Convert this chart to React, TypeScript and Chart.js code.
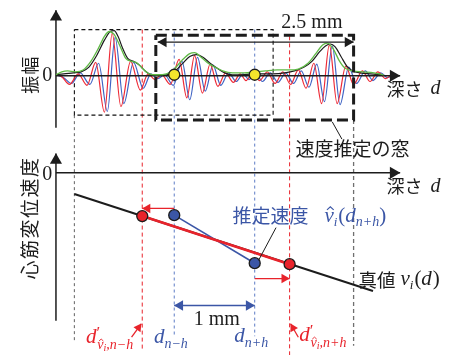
import React, { useEffect, useRef } from 'react';
import { Chart, registerables } from 'chart.js';

Chart.register(...registerables);

type P = [number, number];

// ---------------- data ----------------
// x: position along depth axis; yA: echo amplitude (0 = baseline); yV: myocardial velocity (0 = baseline)
const redWave: P[] = [
  [50, 0], [56, -2], [64, -10], [73, 1], [82, -11], [91, 13], [100, -39], [108, 43], [117, -33], [127, 14],
  [137, -16], [145, 1], [152, -5], [159, 0], [168, -10], [177, 16], [185, -24], [193, 20], [201, -19], [209, 11],
  [217, -12], [225, 2], [233, -8], [240, 1], [246, -6], [253, 2], [260, -6], [268, 3], [276, -9], [284, 3],
  [292, -10], [300, 5], [308, -14], [316, 12], [324, -30], [332, 31], [340, -30], [349, 9], [357, -10], [366, 4],
  [374, -7], [382, 3], [390, -4], [396, 0],
];
const blueWave: P[] = [
  [50, 0], [58, -3], [66, -9], [75, 2], [85, -10], [94, 12], [103, -38], [111, 39], [120, -30], [130, 13],
  [140, -14], [148, 1], [155, -4], [162, 0], [171, -11], [180, 14], [188, -26], [196, 18], [204, -17], [212, 10],
  [220, -11], [228, 2], [236, -7], [243, 1], [249, -5], [256, 2], [263, -7], [271, 2], [279, -8], [287, 2],
  [295, -9], [303, 4], [311, -13], [319, 11], [327, -28], [335, 30], [343, -31], [352, 8], [360, -9], [369, 4],
  [377, -6], [385, 2], [392, -3], [398, 0],
];
const envelopeBlack: P[] = [
  [50, 0], [58, 1], [68, 2], [76, 3], [84, 8], [92, 20], [100, 36], [106, 45], [110, 46], [114, 40],
  [119, 27], [124, 17], [130, 14], [136, 10], [142, 4], [148, 0], [156, -1], [164, 0], [172, 3], [180, 11],
  [188, 19], [195, 21], [202, 18], [209, 12], [216, 7], [224, 2], [232, 0], [242, 0], [252, 1], [262, 1],
  [274, 1], [286, 2], [296, 4], [306, 8], [314, 14], [322, 24], [328, 30], [333, 32], [338, 29], [344, 19],
  [350, 9], [356, 4], [364, 2], [374, 1], [386, 0],
];
const envelopeGreen: P[] = [
  [50, 0], [56, 3], [62, 4], [70, 3], [78, 5], [86, 14], [94, 28], [100, 40], [105, 45], [110, 42],
  [116, 30], [122, 17], [128, 14], [134, 12], [140, 6], [146, 1], [154, 0], [164, 1], [172, 6], [180, 15],
  [188, 22], [193, 23], [200, 18], [207, 12], [214, 8], [222, 4], [232, 2], [244, 2], [256, 3], [266, 4],
  [278, 5], [290, 5], [300, 6], [310, 12], [318, 22], [325, 31], [330, 33], [336, 27], [342, 15], [348, 7],
  [356, 4], [366, 3], [378, 2], [388, 0],
];

const trueVelocity: P[] = [[69, -23], [377, -124]];
const estimatedVelocity: P[] = [[172, -45], [255, -95]];
const shiftedVelocity: P[] = [[139, -46], [291, -96]];
const windowCenters: P[] = [[172, 0], [255, 0]];

// depth positions of the guide lines
const dPrevWindowStart = 69;
const dPrevWindowEnd = 274;
const dWindowStart = 153;
const dWindowEnd = 357;
const dNminusH = 172;
const dNplusH = 255;
const dPrimeMinus = 139;
const dPrimePlus = 291;
const axisStart = 50;
const axisEnd = 405;

// ---------------- styles ----------------
const RED = '#e8232b';
const BLUE = '#3b56a6';
const BLUE_L = '#5d7cc6';
const GREEN = '#5fb946';
const YELLOW = '#f4e62c';
const GRAY = '#6f6f6f';
const INK = '#1c1c1c';
const CJK = '"Noto Sans CJK JP", "Noto Sans CJK SC", sans-serif';
const SERIF = '"Liberation Serif", "DejaVu Serif", serif';

type Run = { t: string; s: number; cjk?: boolean; it?: boolean; dx?: number; dy?: number; hat?: boolean };
type Label = { x: number; y: number; color?: string; align?: 'left' | 'center'; runs: Run[] };

const labels: Label[] = [
  { x: 41, y: 71, align: 'center', runs: [{ t: '0', s: 20 }] },
  { x: 41, y: 174, align: 'center', runs: [{ t: '0', s: 20 }] },
  { x: 314, y: 16, align: 'center', runs: [{ t: '2.5 mm', s: 20 }] },
  { x: 391, y: 85, runs: [{ t: '深さ', s: 18, cjk: true }, { t: 'd', s: 20, it: true, dx: 8 }] },
  { x: 391, y: 186, runs: [{ t: '深さ', s: 18, cjk: true }, { t: 'd', s: 20, it: true, dx: 8 }] },
  { x: 297, y: 147, runs: [{ t: '速度推定の窓', s: 19, cjk: true }] },
  {
    x: 232, y: 217, color: BLUE, runs: [
      { t: '推定速度', s: 19, cjk: true },
      { t: 'v', s: 21, it: true, dx: 16, hat: true },
      { t: 'i', s: 13, it: true, dy: 6 },
      { t: '(', s: 21, dx: 1 },
      { t: 'd', s: 21, it: true },
      { t: 'n+h', s: 14, it: true, dy: 6 },
      { t: ')', s: 21 },
    ],
  },
  {
    x: 362, y: 283, runs: [
      { t: '真値', s: 18.5, cjk: true },
      { t: 'v', s: 21, it: true, dx: 5 },
      { t: 'i', s: 13, it: true, dy: 6 },
      { t: '(', s: 21, dx: 1 },
      { t: 'd', s: 21, it: true },
      { t: ')', s: 21, dx: 1 },
    ],
  },
  { x: 192, y: 325, runs: [{ t: '1 mm', s: 20 }] },
  {
    x: 81, y: 343, color: RED, runs: [
      { t: 'd', s: 21, it: true },
      { t: '′', s: 17, dy: -4 },
      { t: 'v', s: 14, it: true, dy: 8, dx: -3, hat: true },
      { t: 'i', s: 10, it: true, dy: 11 },
      { t: ',n−h', s: 14, it: true, dy: 8 },
    ],
  },
  {
    x: 151, y: 343, color: BLUE, runs: [
      { t: 'd', s: 21, it: true },
      { t: 'n−h', s: 14, it: true, dy: 7 },
    ],
  },
  {
    x: 234, y: 342, color: BLUE, runs: [
      { t: 'd', s: 21, it: true },
      { t: 'n+h', s: 14, it: true, dy: 7 },
    ],
  },
  {
    x: 301, y: 341, color: RED, runs: [
      { t: 'd', s: 21, it: true },
      { t: '′', s: 17, dy: -4 },
      { t: 'v', s: 14, it: true, dy: 8, dx: -3, hat: true },
      { t: 'i', s: 10, it: true, dy: 11 },
      { t: ',n+h', s: 14, it: true, dy: 8 },
    ],
  },
];

const verticalLabels = [
  { x: 23, y: 70, text: '振幅', s: 18, spacing: 1 },
  { x: 23, y: 219, text: '心筋変位速度', s: 19, spacing: 1.5 },
];

// ---------------- helpers ----------------
const xy = (pts: P[]) => pts.map(([x, y]) => ({ x, y }));

function lineDs(pts: P[], yAxisID: string, color: string, width: number, dash: number[] = [], extra: any = {}) {
  return {
    data: xy(pts),
    yAxisID,
    showLine: true,
    borderColor: color,
    borderWidth: width,
    borderDash: dash,
    pointRadius: 0,
    fill: false,
    ...extra,
  };
}

function headDs(from: P, tip: P, color: string, r: number) {
  const dx = tip[0] - from[0];
  const dy = tip[1] - from[1]; // yP is top-down like pixels
  const len = Math.hypot(dx, dy) || 1;
  const rot = (Math.atan2(dx, -dy) * 180) / Math.PI;
  return {
    data: [{ x: tip[0] - (dx / len) * r, y: tip[1] - (dy / len) * r }],
    yAxisID: 'yP',
    showLine: false,
    pointStyle: 'triangle',
    pointRadius: r,
    pointRotation: rot,
    pointBackgroundColor: color,
    pointBorderColor: color,
    pointBorderWidth: 0,
  };
}

function arrow(from: P, to: P, color: string, width: number, r: number, both = false) {
  const out: any[] = [lineDs([from, to], 'yP', color, width)];
  out.push(headDs(from, to, color, r));
  if (both) out.push(headDs(to, from, color, r));
  return out;
}

function dotDs(pts: P[], yAxisID: string, fillColor: string, r: number) {
  return {
    data: xy(pts),
    yAxisID,
    showLine: false,
    pointStyle: 'circle',
    pointRadius: r,
    pointBackgroundColor: fillColor,
    pointBorderColor: INK,
    pointBorderWidth: 1.3,
  };
}

function drawLabel(ctx: CanvasRenderingContext2D, lab: Label, px: number, py: number) {
  ctx.save();
  ctx.fillStyle = lab.color || INK;
  ctx.strokeStyle = lab.color || INK;
  ctx.textBaseline = 'middle';
  ctx.textAlign = 'left';
  const fontOf = (r: Run) => `${r.it ? 'italic ' : ''}${r.s}px ${r.cjk ? CJK : SERIF}`;
  let total = 0;
  for (const r of lab.runs) {
    ctx.font = fontOf(r);
    total += (r.dx || 0) + ctx.measureText(r.t).width;
  }
  let cx = lab.align === 'center' ? px - total / 2 : px;
  for (const r of lab.runs) {
    ctx.font = fontOf(r);
    cx += r.dx || 0;
    const w = ctx.measureText(r.t).width;
    const y = py + (r.dy || 0);
    ctx.fillText(r.t, cx, y);
    if (r.hat) {
      const hx = cx + w / 2 + r.s * 0.06;
      const top = y - r.s * 0.44;
      const hw = r.s * 0.16;
      ctx.lineWidth = Math.max(0.9, r.s * 0.055);
      ctx.beginPath();
      ctx.moveTo(hx - hw, top + hw * 0.9);
      ctx.lineTo(hx, top);
      ctx.lineTo(hx + hw, top + hw * 0.9);
      ctx.stroke();
    }
    cx += w;
  }
  ctx.restore();
}

const textPlugin = {
  id: 'diagramText',
  afterDatasetsDraw(chart: any) {
    const ctx: CanvasRenderingContext2D = chart.ctx;
    const sx = chart.scales.x;
    const sy = chart.scales.yP;
    for (const lab of labels) drawLabel(ctx, lab, sx.getPixelForValue(lab.x), sy.getPixelForValue(lab.y));
    for (const v of verticalLabels) {
      ctx.save();
      ctx.translate(sx.getPixelForValue(v.x), sy.getPixelForValue(v.y));
      ctx.rotate(-Math.PI / 2);
      ctx.font = `${v.s}px ${CJK}`;
      (ctx as any).letterSpacing = `${v.spacing}px`;
      ctx.fillStyle = INK;
      ctx.textAlign = 'center';
      ctx.textBaseline = 'middle';
      ctx.fillText(v.text, 0, 0);
      ctx.restore();
    }
  },
};

function buildDatasets() {
  const layers: any[] = [];
  // vertical guide lines
  layers.push(lineDs([[dPrevWindowStart, 112], [dPrevWindowStart, 347]], 'yP', GRAY, 1.1, [3, 3]));
  layers.push(lineDs([[dWindowEnd, 117], [dWindowEnd, 352]], 'yP', GRAY, 1.3, [4, 3]));
  layers.push(lineDs([[dPrimeMinus, 23], [dPrimeMinus, 355]], 'yP', RED, 1, [4, 3]));
  layers.push(lineDs([[dPrimePlus, 30], [dPrimePlus, 362]], 'yP', RED, 1, [4, 3]));
  layers.push(lineDs([[dNminusH, 25], [dNminusH, 342]], 'yP', BLUE_L, 1, [3, 3]));
  layers.push(lineDs([[dNplusH, 23], [dNplusH, 342]], 'yP', BLUE_L, 1, [3, 3]));
  // previous window (thin dashed box)
  layers.push(lineDs([[dPrevWindowStart, 23], [dPrevWindowEnd, 23], [dPrevWindowEnd, 112], [dPrevWindowStart, 112], [dPrevWindowStart, 23]], 'yP', '#111', 1.1, [4, 3]));
  // waveforms
  layers.push(lineDs(blueWave, 'yA', '#3f63c4', 1.2, [], { cubicInterpolationMode: 'monotone' }));
  layers.push(lineDs(redWave, 'yA', '#ee2a36', 1.2, [], { cubicInterpolationMode: 'monotone' }));
  // axes
  layers.push(...arrow([axisStart, 125], [axisStart, 3], INK, 1.5, 7));
  layers.push(...arrow([axisStart, 71], [axisEnd, 71], INK, 1.5, 7));
  layers.push(...arrow([axisStart, 326], [axisStart, 152], INK, 1.5, 7));
  layers.push(...arrow([axisStart, 172], [axisEnd, 172], INK, 1.5, 7));
  // envelopes
  layers.push(lineDs(envelopeBlack, 'yA', INK, 1.2, [], { cubicInterpolationMode: 'monotone' }));
  layers.push(lineDs(envelopeGreen, 'yA', GREEN, 1.3, [], { cubicInterpolationMode: 'monotone' }));
  // current window (thick dashed box)
  layers.push(lineDs([[dWindowStart, 29], [dWindowEnd, 29], [dWindowEnd, 117], [dWindowStart, 117], [dWindowStart, 29]], 'yP', INK, 3, [11, 5]));
  // 2.5 mm arrow
  layers.push(...arrow([dWindowStart + 2, 36], [dWindowEnd, 36], INK, 1.3, 6, true));
  // window leader
  layers.push(lineDs([[335, 119], [345, 137]], 'yP', INK, 1));
  // window centres
  layers.push(dotDs(windowCenters, 'yA', YELLOW, 5.5));
  // velocity lines
  layers.push(lineDs(trueVelocity, 'yV', INK, 2));
  layers.push(lineDs(estimatedVelocity, 'yV', BLUE, 1.6));
  layers.push(lineDs(shiftedVelocity, 'yV', RED, 2.6));
  layers.push(dotDs(estimatedVelocity, 'yV', BLUE, 5.5));
  layers.push(dotDs(shiftedVelocity, 'yV', RED, 5.5));
  // shift arrows
  layers.push(...arrow([dNminusH, 209], [dPrimeMinus, 209], RED, 1.3, 5.5));
  layers.push(...arrow([dNplusH, 282], [dPrimePlus, 282], RED, 1.3, 5.5));
  // 1 mm arrow
  layers.push(...arrow([dNminusH, 310], [dNplusH, 310], BLUE, 1.3, 6, true));
  // label pointers
  layers.push(lineDs([[277, 229], [259, 263]], 'yP', INK, 1));
  layers.push(...arrow([128, 343], [dPrimeMinus - 1, 329], RED, 1.3, 5));
  layers.push(...arrow([300, 343], [dPrimePlus + 1, 329], RED, 1.3, 5));
  // later layers on top: lower order draws above
  const n = layers.length;
  return layers.map((d, i) => ({ ...d, order: n - i }));
}

export default function App() {
  const ref = useRef<HTMLCanvasElement | null>(null);
  useEffect(() => {
    if (!ref.current) return;
    const chart = new Chart(ref.current, {
      type: 'scatter',
      data: { datasets: buildDatasets() },
      options: {
        responsive: false,
        animation: false,
        events: [],
        layout: { padding: 0 },
        plugins: { legend: { display: false }, tooltip: { enabled: false } },
        elements: { line: { capBezierPoints: false } },
        scales: {
          x: { type: 'linear', min: -0.5, max: 458.5, display: false },
          y: { type: 'linear', min: 0, max: 1, display: false },
          yA: { type: 'linear', min: -291.5, max: 70.5, display: false },
          yV: { type: 'linear', min: -190.5, max: 171.5, display: false },
          yP: { type: 'linear', min: -0.5, max: 361.5, reverse: true, display: false },
        },
      } as any,
      plugins: [textPlugin as any],
    });
    return () => chart.destroy();
  }, []);
  return (
    <div style={{ position: 'fixed', left: 0, top: 0, width: 459, height: 362, background: '#fff' }}>
      <canvas ref={ref} width={459} height={362} style={{ display: 'block' }} />
    </div>
  );
}
